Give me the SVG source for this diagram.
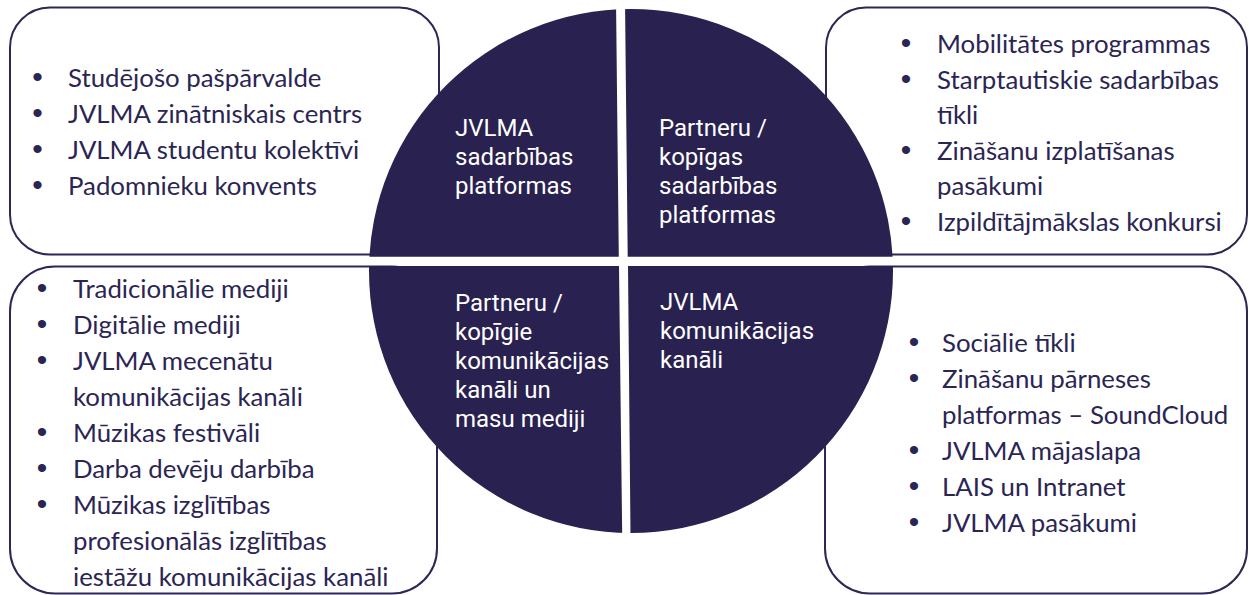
<svg xmlns="http://www.w3.org/2000/svg" width="1249" height="595" viewBox="0 0 1249 595">
<style>
.box{fill:#ffffff;stroke:#2c2754;stroke-width:2}
.q{fill:#29214f}
.bt{font-family:Lato,"Liberation Sans",sans-serif;font-size:25.8px;fill:#2b2553}
.bl{font-family:"Liberation Sans",Arial,sans-serif;font-size:30px;fill:#2b2553;text-anchor:middle}
.ct{font-family:Roboto,"Liberation Sans",sans-serif;font-size:24px;fill:#ffffff}
</style>
<defs>
<clipPath id="cc"><circle cx="631" cy="271" r="262"/></clipPath>
</defs>
<rect width="1249" height="595" fill="#ffffff"/>
<g id="box-tl">
<rect class="box" x="10" y="7.5" width="429" height="247" rx="40"/>
<text class="bl" x="37.5" y="87">•</text><text class="bt" x="68" y="87">Studējošo pašpārvalde</text>
<text class="bl" x="37.5" y="123">•</text><text class="bt" x="68" y="123">JVLMA zinātniskais centrs</text>
<text class="bl" x="37.5" y="159">•</text><text class="bt" x="68" y="159">JVLMA studentu kolektīvi</text>
<text class="bl" x="37.5" y="195">•</text><text class="bt" x="68" y="195">Padomnieku konvents</text>
</g>
<g id="box-tr">
<rect class="box" x="826" y="7.5" width="421" height="247" rx="40"/>
<text class="bl" x="906" y="53">•</text><text class="bt" x="937" y="53">Mobilitātes programmas</text>
<text class="bl" x="906" y="88.5">•</text><text class="bt" x="937" y="88.5">Starptautiskie sadarbības</text>
<text class="bt" x="937" y="124">tīkli</text>
<text class="bl" x="906" y="159.5">•</text><text class="bt" x="937" y="159.5">Zināšanu izplatīšanas</text>
<text class="bt" x="937" y="195">pasākumi</text>
<text class="bl" x="906" y="230.5">•</text><text class="bt" x="937" y="230.5">Izpildītājmākslas konkursi</text>
</g>
<g id="box-bl">
<rect class="box" x="10" y="266.5" width="427" height="327" rx="45"/>
<text class="bl" x="42" y="297.5">•</text><text class="bt" x="73" y="297.5">Tradicionālie mediji</text>
<text class="bl" x="42" y="333.5">•</text><text class="bt" x="73" y="333.5">Digitālie mediji</text>
<text class="bl" x="42" y="369.5">•</text><text class="bt" x="73" y="369.5">JVLMA mecenātu</text>
<text class="bt" x="73" y="405.5">komunikācijas kanāli</text>
<text class="bl" x="42" y="441.5">•</text><text class="bt" x="73" y="441.5">Mūzikas festivāli</text>
<text class="bl" x="42" y="477.5">•</text><text class="bt" x="73" y="477.5">Darba devēju darbība</text>
<text class="bl" x="42" y="513.5">•</text><text class="bt" x="73" y="513.5">Mūzikas izglītības</text>
<text class="bt" x="73" y="549.5">profesionālās izglītības</text>
<text class="bt" x="73" y="585.5">iestāžu komunikācijas kanāli</text>
</g>
<g id="box-br">
<rect class="box" x="825" y="266.5" width="422" height="327" rx="45"/>
<text class="bl" x="914" y="352">•</text><text class="bt" x="942" y="352">Sociālie tīkli</text>
<text class="bl" x="914" y="388">•</text><text class="bt" x="942" y="388">Zināšanu pārneses</text>
<text class="bt" x="942" y="424">platformas – SoundCloud</text>
<text class="bl" x="914" y="460">•</text><text class="bt" x="942" y="460">JVLMA mājaslapa</text>
<text class="bl" x="914" y="496">•</text><text class="bt" x="942" y="496">LAIS un Intranet</text>
<text class="bl" x="914" y="532">•</text><text class="bt" x="942" y="532">JVLMA pasākumi</text>
</g>
<g id="q-tl">
<polygon class="q" clip-path="url(#cc)" points="360,0 616,0 618.8,256.7 360,256.7"/>
<text class="ct" x="455" y="136">JVLMA</text>
<text class="ct" x="455" y="165">sadarbības</text>
<text class="ct" x="455" y="194">platformas</text>
</g>
<g id="q-tr">
<polygon class="q" clip-path="url(#cc)" points="625,0 900,0 900,256.7 627.7,256.7"/>
<text class="ct" x="659" y="136">Partneru /</text>
<text class="ct" x="659" y="165">kopīgas</text>
<text class="ct" x="659" y="194">sadarbības</text>
<text class="ct" x="659" y="223">platformas</text>
</g>
<g id="q-bl">
<polygon class="q" clip-path="url(#cc)" points="360,266 619,266 622.3,545 360,545"/>
<text class="ct" x="455" y="311">Partneru /</text>
<text class="ct" x="455" y="340">kopīgie</text>
<text class="ct" x="455" y="369">komunikācijas</text>
<text class="ct" x="455" y="398">kanāli un</text>
<text class="ct" x="455" y="427">masu mediji</text>
</g>
<g id="q-br">
<polygon class="q" clip-path="url(#cc)" points="628,266 900,266 900,545 630.6,545"/>
<text class="ct" x="660" y="310">JVLMA</text>
<text class="ct" x="660" y="339">komunikācijas</text>
<text class="ct" x="660" y="368">kanāli</text>
</g>
<g id="connectors"/>
</svg>
